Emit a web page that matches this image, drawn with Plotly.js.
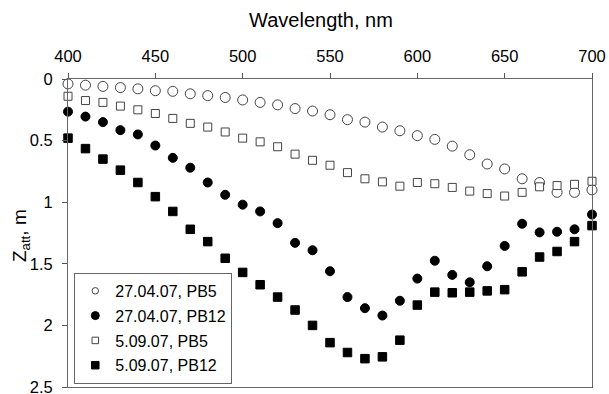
<!DOCTYPE html>
<html><head><meta charset="utf-8">
<script src="https://cdn.plot.ly/plotly-3.0.1.min.js"></script>
<style>html,body{margin:0;padding:0;background:#fff}#c{width:609px;height:394px}</style>
</head><body><div id="c"></div>
<script>
const wavelength = [400,410,420,430,440,450,460,470,480,490,500,510,520,530,540,550,560,570,580,590,600,610,620,630,640,650,660,670,680,690,700];
const pb5_2704 = [0.04,0.05,0.06,0.07,0.08,0.095,0.10,0.12,0.135,0.15,0.17,0.19,0.21,0.24,0.26,0.29,0.33,0.35,0.39,0.42,0.46,0.49,0.545,0.615,0.69,0.73,0.81,0.84,0.92,0.92,0.90];
const pb12_2704 = [0.265,0.305,0.35,0.415,0.45,0.54,0.64,0.72,0.84,0.94,1.02,1.075,1.17,1.33,1.39,1.56,1.77,1.86,1.92,1.80,1.62,1.475,1.59,1.65,1.52,1.355,1.175,1.245,1.24,1.22,1.10];
const pb5_0509 = [0.14,0.175,0.19,0.22,0.25,0.28,0.32,0.36,0.39,0.43,0.48,0.51,0.55,0.61,0.66,0.70,0.76,0.81,0.835,0.87,0.84,0.85,0.88,0.91,0.93,0.95,0.92,0.875,0.865,0.855,0.83];
const pb12_0509 = [0.48,0.565,0.65,0.74,0.84,0.955,1.075,1.22,1.32,1.455,1.57,1.67,1.77,1.875,2.0,2.14,2.22,2.27,2.255,2.12,1.835,1.73,1.735,1.73,1.72,1.71,1.565,1.445,1.40,1.32,1.19];
const names = ["27.04.07, PB5","27.04.07, PB12","5.09.07, PB5","5.09.07, PB12"];
const xTicks = [400,450,500,550,600,650,700];
const yTicks = [0,0.5,1,1.5,2,2.5];

const series = [pb5_2704, pb12_2704, pb5_0509, pb12_0509];
const symbols = ['circle','circle','square','square'];
const filled = [false,true,false,true];
const sizes = [10,9,8,8.5];
const legendSizes = [6.5,8,6.5,7.5];

const markerOf = (i, size) => ({symbol: symbols[i], size: size,
  color: filled[i] ? '#000' : '#fff',
  line: {color: filled[i] ? '#000' : '#444', width: 1}});

const data = [];
series.forEach((y, i) => {
  data.push({x: wavelength, y: y, name: names[i], type: 'scatter', mode: 'markers',
             showlegend: false, marker: markerOf(i, sizes[i]), cliponaxis: false});
});
series.forEach((y, i) => {
  data.push({x: [null], y: [null], name: names[i], type: 'scatter', mode: 'markers',
             legendgroup: 'g' + i, showlegend: true, marker: markerOf(i, legendSizes[i])});
});

const fam = 'Liberation Sans, Arial, sans-serif';
const layout = {
  width: 609, height: 394,
  margin: {l: 68, r: 17, t: 79, b: 7},
  paper_bgcolor: '#fff', plot_bgcolor: '#fff',
  font: {family: fam, size: 16, color: '#000'},
  showlegend: true,
  title: {text: 'Wavelength, nm', font: {family: fam, size: 20, color: '#000'},
          x: 321 / 609, xanchor: 'center', xref: 'container',
          y: 1 - 20 / 394, yanchor: 'middle', yref: 'container'},
  legend: {x: 0.012, y: 0.01, xanchor: 'left', yanchor: 'bottom',
           bordercolor: '#666', borderwidth: 1, bgcolor: '#fff',
           font: {family: fam, size: 16, color: '#000'},
           tracegroupgap: 1, itemwidth: 30},
  annotations: [{text: 'Z<sub>att</sub>, m', textangle: -90, showarrow: false,
                 xref: 'paper', yref: 'paper', x: (21 - 68) / 524, y: 0.49,
                 xanchor: 'center', yanchor: 'middle',
                 font: {family: fam, size: 19, color: '#000'}}],
  xaxis: {side: 'top', range: [400, 700], tickvals: xTicks, ticks: 'outside', ticklen: 5,
          tickcolor: '#555', linecolor: '#666', linewidth: 1, showline: true, mirror: true,
          showgrid: false, zeroline: false, tickfont: {size: 16.5}, ticklabelstandoff: 4,
          ticklabeloverflow: 'allow'},
  yaxis: {range: [2.5, 0], tickvals: yTicks, ticks: 'outside', ticklen: 5,
          tickcolor: '#555', linecolor: '#666', linewidth: 1, showline: true, mirror: true,
          showgrid: false, zeroline: false, tickfont: {size: 16.5}, ticklabelstandoff: 6,
          ticklabeloverflow: 'allow'}
};
Plotly.newPlot('c', data, layout, {displayModeBar: false, staticPlot: true});
</script></body></html>
